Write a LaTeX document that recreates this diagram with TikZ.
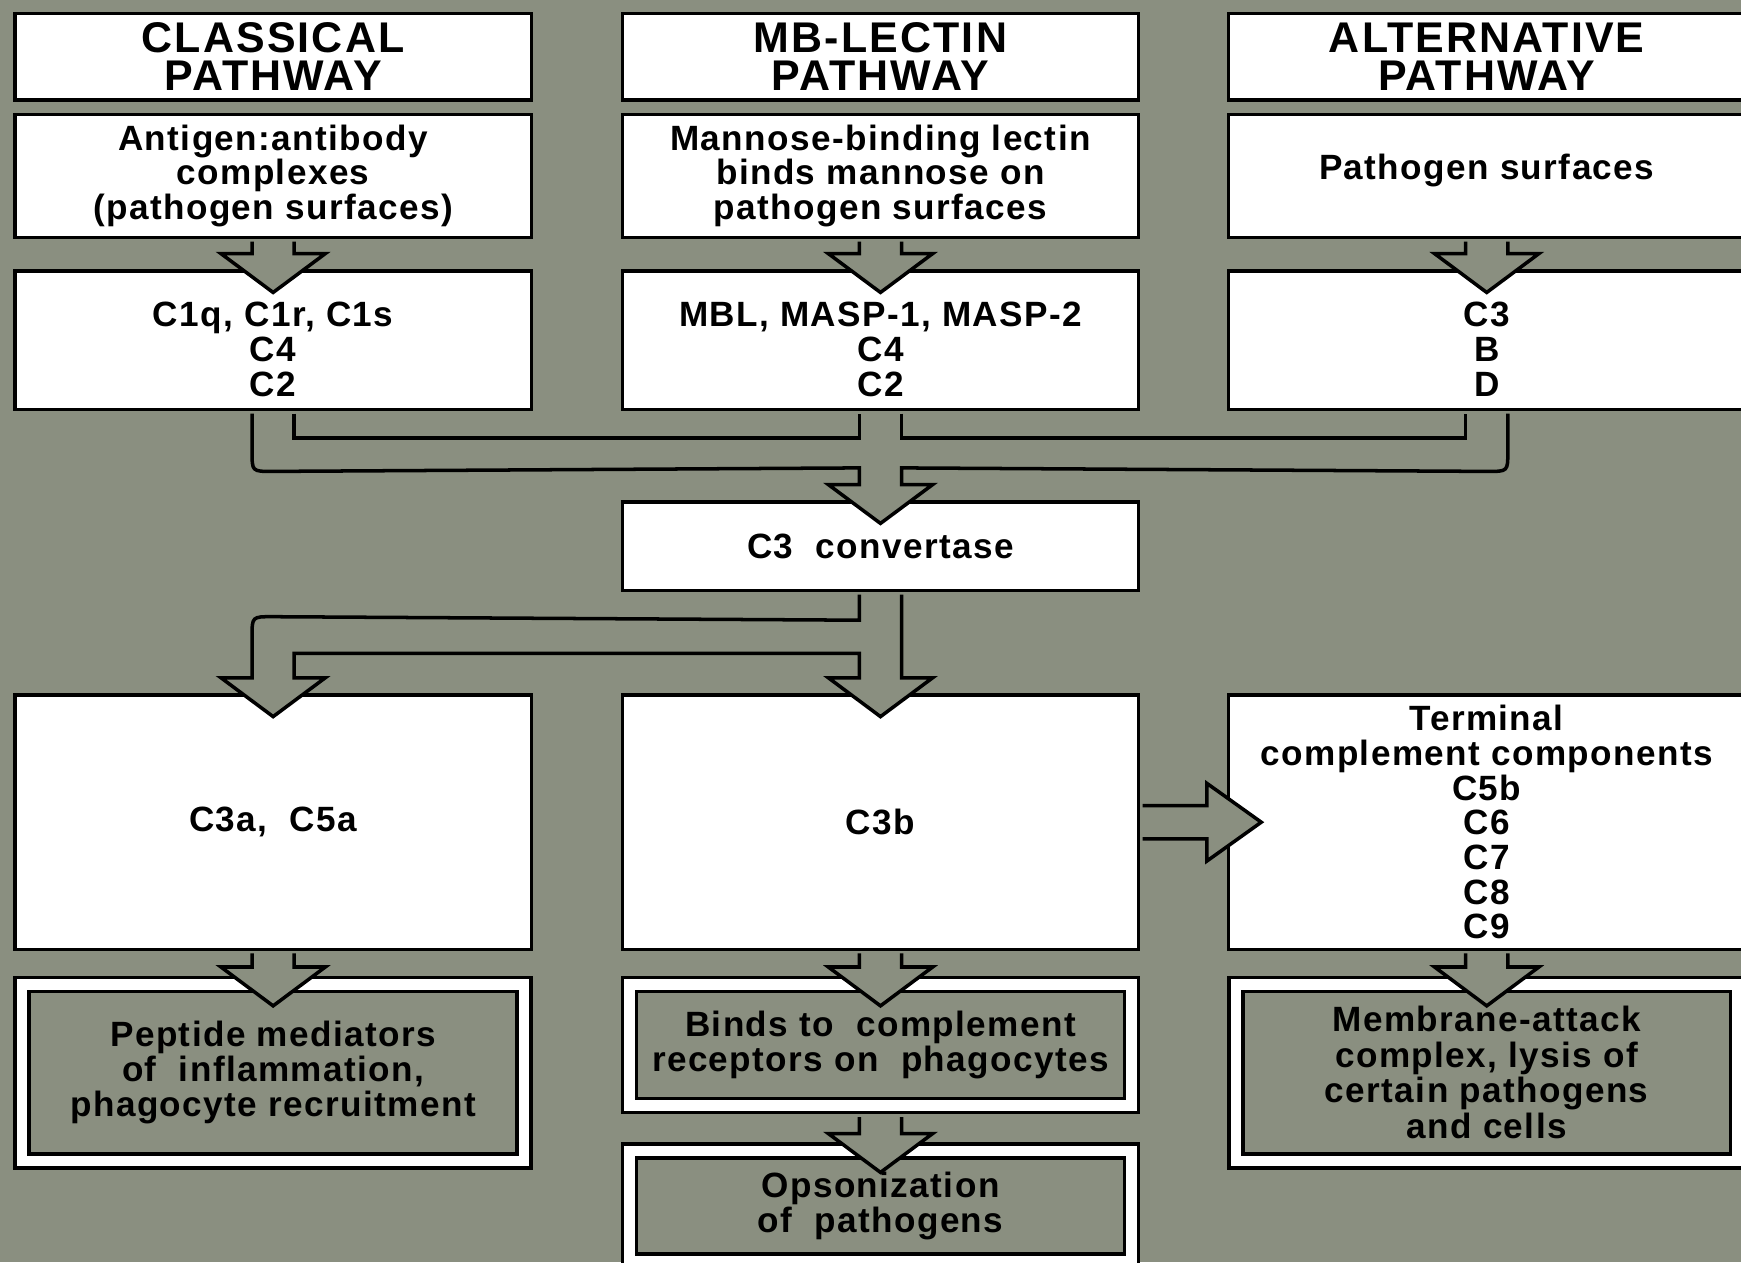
\documentclass[tikz,border=0pt]{standalone}
\usepackage{fontspec}
\setmainfont{Liberation Sans}[LetterSpace=4]

\definecolor{slate}{RGB}{138,143,128}
\newcommand{\bodyfont}{\fontsize{9}{8.9}\selectfont\bfseries}
\newcommand{\headfont}{\fontsize{11}{9.9}\selectfont\bfseries\addfontfeature{LetterSpace=5}}

% block arrow straight down from #1 into #2, #3 = gap below the source border
\newcommand{\fatdown}[3]{%
	\filldraw[fat] ([shift={(-19,#3)}]#1.south) -- ([shift={(-19,-14)}]#2.north) -- ([shift={(-47,-14)}]#2.north)
		-- ([shift={(0,21)}]#2.north) -- ([shift={(47,-14)}]#2.north) -- ([shift={(19,-14)}]#2.north) -- ([shift={(19,#3)}]#1.south);}

\begin{document}
\begin{tikzpicture}[x=0.1mm,y=-0.1mm,
		box/.style={rectangle,draw,fill=white,line width=0.9pt,minimum width=46.5mm,inner sep=0pt,align=center,font=\bodyfont},
		dbox/.style={rectangle,draw,fill=slate,line width=0.9pt,double=white,double distance=0.95mm,minimum width=45.2mm,inner sep=0pt,align=center,font=\bodyfont},
		txt/.style={font=\bodyfont,align=center,inner sep=0pt},
		link/.style={draw=black,line width=0.9pt},
		fat/.style={draw=black,fill=slate,line width=0.9pt,line join=miter}]

	\fill[slate] (0,0) rectangle (1568,1137);
	\useasboundingbox (0,0) rectangle (1568,1137);

	% the three pathways
	\draw (246,51) node (cl) [box,minimum height=7.8mm,font=\headfont] {CLASSICAL\\PATHWAY};
	\draw (793,51) node (mb) [box,minimum height=7.8mm,font=\headfont] {MB-LECTIN\\PATHWAY};
	\draw (1339,51) node (al) [box,minimum height=7.8mm,font=\headfont] {ALTERNATIVE\\PATHWAY};

	\draw (246,158.5) node (cl2) [box,minimum height=11.1mm] {Antigen:antibody\\complexes\\(pathogen surfaces)};
	\draw (793,158.5) node (mb2) [box,minimum height=11.1mm] {Mannose-binding lectin\\binds mannose on\\pathogen surfaces};
	\draw (1339,158.5) node (al2) [box,minimum height=11.1mm,label={[txt,yshift=0.45mm]center:Pathogen surfaces}] {};

	\draw (246,306.5) node (cl3) [box,minimum height=12.5mm,label={[txt,yshift=-0.8mm]center:{C1q, C1r, C1s\\C4\\C2}}] {};
	\draw (793,306.5) node (mb3) [box,minimum height=12.5mm,label={[txt,yshift=-0.8mm]center:{MBL, MASP-1, MASP-2\\C4\\C2}}] {};
	\draw (1339,306.5) node (al3) [box,minimum height=12.5mm,label={[txt,yshift=-0.8mm]center:{C3\\B\\D}}] {};

	\draw (793,492) node (cv) [box,minimum height=8mm] {C3\ \ convertase};

	% products
	\draw (246,740.5) node (c3a) [box,minimum height=22.9mm] {C3a,\ \ C5a};
	\draw (793,740.5) node (c3b) [box,minimum height=22.9mm] {C3b};
	\draw (1339,740.5) node (tcc) [box,minimum height=22.9mm] {Terminal\\complement components\\C5b\\C6\\C7\\C8\\C9};

	\draw (246,966) node (pep) [dbox,minimum height=15.9mm] {Peptide mediators\\of\ \ inflammation,\\phagocyte recruitment};
	\draw (793,941) node (rec) [dbox,minimum height=10.9mm] {Binds to\ \ complement\\receptors on\ \ phagocytes};
	\draw (1339,966) node (mac) [dbox,minimum height=15.9mm,font=\fontsize{9}{9.1}\selectfont\bfseries] {Membrane-attack\\complex, lysis of\\certain pathogens\\and cells};
	\draw (793,1086) node (ops) [dbox,minimum height=9.9mm] {Opsonization\\of\ \ pathogens};

	% block arrows
	\fatdown{cl2}{cl3}{2}
	\fatdown{mb2}{mb3}{2}
	\fatdown{al2}{al3}{2}

	% three pathways merging into the convertase
	\filldraw[fat] ([shift={(-19,2)}]cl3.south) -- ([shift={(-19,36)}]cl3.south) .. controls ([shift={(-19,54)}]cl3.south) .. ([shift={(-1,54)}]cl3.south)
		-- ([shift={(-19,-29)}]cv.north) -- ([shift={(-19,-14)}]cv.north) -- ([shift={(-47,-14)}]cv.north) -- ([shift={(0,21)}]cv.north)
		-- ([shift={(47,-14)}]cv.north) -- ([shift={(19,-14)}]cv.north) -- ([shift={(19,-29)}]cv.north)
		-- ([shift={(1,54)}]al3.south) .. controls ([shift={(19,54)}]al3.south) .. ([shift={(19,36)}]al3.south) -- ([shift={(19,2)}]al3.south);
	\draw[link] ([shift={(19,2)}]cl3.south) |- ([shift={(-19,24)}]mb3.south) -- ([shift={(-19,2)}]mb3.south);
	\draw[link] ([shift={(19,2)}]mb3.south) |- ([shift={(-19,24)}]al3.south) -- ([shift={(-19,2)}]al3.south);

	% convertase splitting into C3a and C3b
	\filldraw[fat] ([shift={(-19,2)}]cv.south) -- ([shift={(-19,25)}]cv.south) -- ([shift={(-1,-69)}]c3a.north)
		.. controls ([shift={(-19,-69)}]c3a.north) .. ([shift={(-19,-51)}]c3a.north)
		-- ([shift={(-19,-14)}]c3a.north) -- ([shift={(-47,-14)}]c3a.north) -- ([shift={(0,21)}]c3a.north)
		-- ([shift={(47,-14)}]c3a.north) -- ([shift={(19,-14)}]c3a.north) -- ([shift={(19,-36)}]c3a.north)
		-- ([shift={(-19,-36)}]c3b.north) -- ([shift={(-19,-14)}]c3b.north) -- ([shift={(-47,-14)}]c3b.north) -- ([shift={(0,21)}]c3b.north)
		-- ([shift={(47,-14)}]c3b.north) -- ([shift={(19,-14)}]c3b.north) -- ([shift={(19,2)}]cv.south);

	\filldraw[fat] ([shift={(2,-15)}]c3b.east) -- ([shift={(-18,-15)}]tcc.west) -- ([shift={(-18,-35)}]tcc.west) -- ([shift={(31,0)}]tcc.west)
		-- ([shift={(-18,35)}]tcc.west) -- ([shift={(-18,15)}]tcc.west) -- ([shift={(2,15)}]c3b.east);

	\fatdown{c3a}{pep}{2}
	\fatdown{c3b}{rec}{2}
	\fatdown{tcc}{mac}{2}
	\fatdown{rec}{ops}{9}

\end{tikzpicture}
\end{document}
